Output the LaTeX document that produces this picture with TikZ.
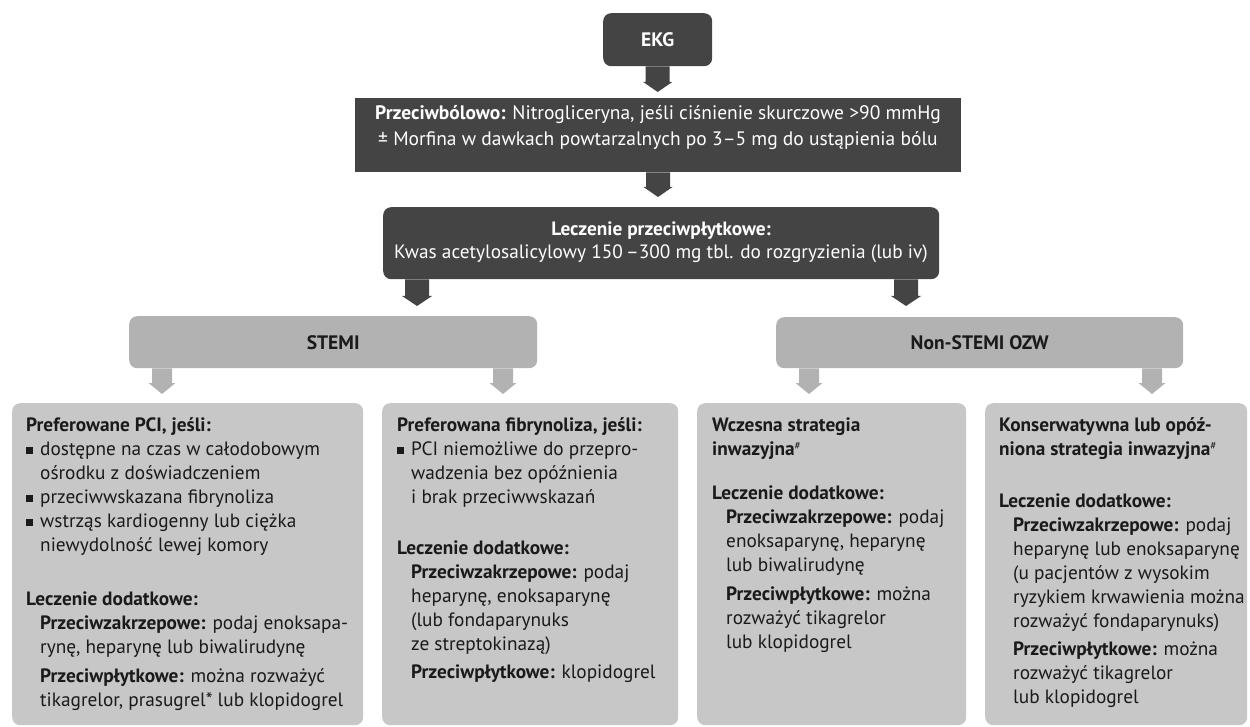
\documentclass[tikz,border=0pt]{standalone}
\usepackage{fontspec}
\setmainfont{PT Sans}
\usetikzlibrary{calc}
\definecolor{dk}{HTML}{444444}
\definecolor{md}{HTML}{B2B2B2}
\definecolor{lt}{HTML}{C7C7C7}
\definecolor{tx}{HTML}{1A1A1A}
\newcommand\blt{\makebox[14pt][l]{\rule[1.2pt]{6.5pt}{6.5pt}}}
\newcommand\ind{\hspace*{14pt}}
\newcommand\hsh{\raisebox{6pt}{\fontsize{11}{11}\selectfont\#}}
\newcommand\blkarrow[7]{%
  \fill[#1] let \p1=(#2), \p2=(#3) in
  ({\x1-#4/2},\y1) -- ({\x1+#4/2},\y1) -- ({\x1+#4/2},{\y2+#7+#6}) --
  ({\x1+#5/2},{\y2+#7+#6}) -- (\x1,{\y2+#7}) -- ({\x1-#5/2},{\y2+#7+#6}) --
  ({\x1-#4/2},{\y2+#7+#6}) -- cycle;}
\tikzset{
  dkbox/.style={fill=dk, draw=none, rounded corners=8pt, anchor=north west, inner sep=0pt, text=white},
  mdbox/.style={fill=md, draw=none, rounded corners=8pt, anchor=north west, inner sep=0pt, text=tx},
  ltbox/.style={fill=lt, draw=none, rounded corners=8pt, anchor=north west, inner sep=0pt},
  bodytxt/.style={inner sep=0pt, anchor=base west, text=tx, font=\fontsize{19.3}{24}\selectfont},
  toptxt/.style={inner sep=0pt, anchor=base, text=white, font=\fontsize{19.5}{26}\selectfont},
}
\begin{document}
\begin{tikzpicture}[x=1pt,y=-1pt]
\useasboundingbox (0,0) rectangle (1250,727);
% top chain
\node[dkbox, minimum width=109, minimum height=53, font=\fontsize{19.5}{24}\selectfont\bfseries] (ekg) at (603,13) {EKG};
\node[dkbox, rounded corners=0pt, minimum width=606, minimum height=74] (prz) at (355,98) {};
\node[toptxt] (tprz) at (658,120) {\parbox[t]{640pt}{\centering\textbf{Przeciwbólowo:} Nitrogliceryna, jeśli ciśnienie skurczowe >90 mmHg\\
± Morfina w dawkach powtarzalnych po 3–5 mg do ustąpienia bólu}};
\node[dkbox, minimum width=556, minimum height=72] (lec) at (383,207) {};
\node[toptxt, font=\fontsize{19.3}{23}\selectfont] (tlec) at (661,236) {\parbox[t]{600pt}{\centering\textbf{Leczenie przeciwpłytkowe:}\\
Kwas acetylosalicylowy 150\,–300 mg tbl. do rozgryzienia (lub iv)}};
% second level
\node[mdbox, minimum width=408, minimum height=52, font=\fontsize{19.5}{24}\selectfont\bfseries] (stemi) at (129,316) {STEMI};
\node[mdbox, minimum width=407, minimum height=51, font=\fontsize{19.5}{24}\selectfont\bfseries] (nstemi) at (776,317) {Non-STEMI OZW};
% bottom boxes
\node[ltbox, minimum width=351, minimum height=322] (b1) at (12,403) {};
\node[ltbox, minimum width=296, minimum height=322] (b2) at (382,403) {};
\node[ltbox, minimum width=269, minimum height=322] (b3) at (697,403) {};
\node[ltbox, minimum width=262, minimum height=322] (b4) at (985,403) {};
% arrows
\blkarrow{dk}{ekg.south}{prz.north}{24pt}{29pt}{10pt}{6pt}
\blkarrow{dk}{prz.south -| 658,0}{lec.north}{24pt}{29pt}{10pt}{10pt}
\blkarrow{dk}{lec.south -| 417,0}{stemi.north}{24pt}{30pt}{10pt}{10pt}
\blkarrow{dk}{lec.south -| 906,0}{nstemi.north}{24pt}{30pt}{10pt}{11pt}
\blkarrow{md}{stemi.south -| 162,0}{b1.north}{20pt}{27pt}{11pt}{9pt}
\blkarrow{md}{stemi.south -| 503,0}{b2.north}{20pt}{27pt}{11pt}{9pt}
\blkarrow{md}{nstemi.south -| 809,0}{b3.north}{20pt}{27pt}{11pt}{9pt}
\blkarrow{md}{nstemi.south -| 1152,0}{b4.north}{20pt}{27pt}{11pt}{9pt}
% box texts
\node[bodytxt] (t1) at (26,431) {\parbox[t]{345pt}{\raggedright
\textbf{Preferowane PCI, jeśli:}\\
\blt dostępne na czas w całodobowym\\
\ind ośrodku z doświadczeniem\\
\blt przeciwwskazana fibrynoliza\\
\blt wstrząs kardiogenny lub ciężka\\
\ind niewydolność lewej komory\\[30pt]
\textbf{Leczenie dodatkowe:}\\
\ind\textbf{Przeciwzakrzepowe:} podaj enoksapa-\\
\ind rynę, heparynę lub biwalirudynę\\[5pt]
\ind\textbf{Przeciwpłytkowe:} można rozważyć\\
\ind tikagrelor, prasugrel* lub klopidogrel}};
\node[bodytxt] (t2) at (397,431) {\parbox[t]{300pt}{\raggedright
\textbf{Preferowana fibrynoliza, jeśli:}\\
\blt PCI niemożliwe do przepro-\\
\ind wadzenia bez opóźnienia\\
\ind i brak przeciwwskazań\\[27pt]
\textbf{Leczenie dodatkowe:}\\
\ind\textbf{Przeciwzakrzepowe:} podaj\\
\ind heparynę, enoksaparynę\\
\ind (lub fondaparynuks\\
\ind ze streptokinazą)\\[4pt]
\ind\textbf{Przeciwpłytkowe:} klopidogrel}};
\node[bodytxt] (t3) at (712,431) {\parbox[t]{280pt}{\raggedright
\textbf{Wczesna strategia}\\
\textbf{inwazyjna}\hsh\\[20pt]
\textbf{Leczenie dodatkowe:}\\
\ind\textbf{Przeciwzakrzepowe:} podaj\\
\ind enoksaparynę, heparynę\\
\ind lub biwalirudynę\\[5pt]
\ind\textbf{Przeciwpłytkowe:} można\\
\ind rozważyć tikagrelor\\
\ind lub klopidogrel}};
\node[bodytxt] (t4) at (999,431) {\parbox[t]{300pt}{\raggedright
\textbf{Konserwatywna lub opóź-}\\
\textbf{niona strategia inwazyjna}\hsh\\[28pt]
\textbf{Leczenie dodatkowe:}\\
\ind\textbf{Przeciwzakrzepowe:} podaj\\
\ind heparynę lub enoksaparynę\\
\ind (u pacjentów z wysokim\\
\ind ryzykiem krwawienia można\\
\ind rozważyć fondaparynuks)\\[4pt]
\ind\textbf{Przeciwpłytkowe:} można\\
\ind rozważyć tikagrelor\\
\ind lub klopidogrel}};
\end{tikzpicture}
\end{document}
